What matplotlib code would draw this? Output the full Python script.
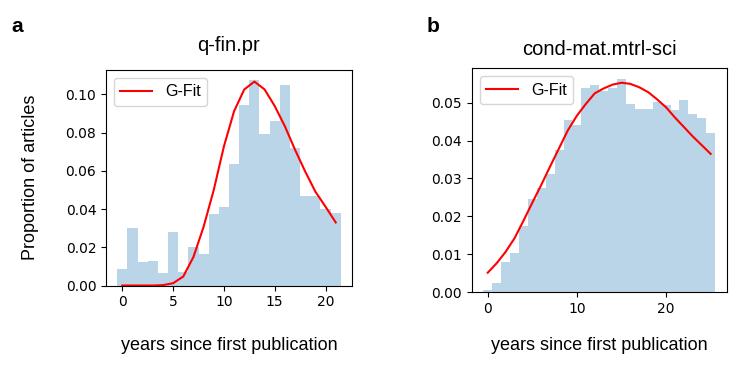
import matplotlib
matplotlib.use("Agg")
import matplotlib.pyplot as plt
import numpy as np

# Panel a: q-fin.pr
years_a = list(range(0, 22))
prop_a = [0.0084, 0.0300, 0.0121, 0.0126, 0.0065, 0.0279, 0.0070, 0.0204, 0.0167,
          0.0375, 0.0411, 0.0637, 0.0947, 0.1074, 0.0791, 0.0863, 0.1051, 0.0721,
          0.0467, 0.0470, 0.0402, 0.0377]
fit_a = [0.0, 0.0, 0.0, 0.0, 0.0002, 0.0012, 0.0047, 0.0149, 0.0307, 0.0500,
         0.0728, 0.0912, 0.1026, 0.1067, 0.1026, 0.0939, 0.0833, 0.0710, 0.0596,
         0.0491, 0.0412, 0.0330]

# Panel b: cond-mat.mtrl-sci
years_b = list(range(0, 26))
prop_b = [0.0004, 0.0023, 0.0078, 0.0103, 0.0175, 0.0245, 0.0274, 0.0311, 0.0374,
          0.0454, 0.0440, 0.0538, 0.0547, 0.0532, 0.0538, 0.0563, 0.0498, 0.0484,
          0.0484, 0.0502, 0.0493, 0.0480, 0.0508, 0.0471, 0.0459, 0.0419]
fit_b = [0.0051, 0.0076, 0.0106, 0.0142, 0.0188, 0.0236, 0.0283, 0.0332, 0.0380,
         0.0428, 0.0466, 0.0497, 0.0525, 0.0538, 0.0548, 0.0553, 0.0550, 0.0541,
         0.0528, 0.0509, 0.0488, 0.0461, 0.0436, 0.0411, 0.0388, 0.0365]

titles = ["q-fin.pr", "cond-mat.mtrl-sci"]
panel_labels = ["a", "b"]
xlabel = "years since first publication"
ylabel = "Proportion of articles"

W, H = 747, 368
fig = plt.figure(figsize=(W / 100, H / 100), dpi=100)

def rect(x0, y0, x1, y1):
    return [x0 / W, 1 - y1 / H, (x1 - x0) / W, (y1 - y0) / H]

lab_font = dict(family="Liberation Sans")
axA = fig.add_axes(rect(106, 70, 352, 285.5))
axB = fig.add_axes(rect(471.7, 68.3, 726.7, 292))

for ax, xs, ys, fx, title, tpad, xpad in [
        (axA, years_a, prop_a, fit_a, titles[0], 14, 20),
        (axB, years_b, prop_b, fit_b, titles[1], 9.5, 15)]:
    ax.bar(xs, ys, width=1.0, color="C0", alpha=0.3, linewidth=0)
    ax.plot(xs, fx, color="red", lw=1.5, label="G-Fit")
    ax.set_title(title, fontsize=14.5, pad=tpad, **lab_font)
    ax.set_xlabel(xlabel, fontsize=13, labelpad=xpad, **lab_font)
    ax.tick_params(labelsize=10)
    ax.legend(loc="upper left", prop=dict(family="Liberation Sans", size=11.5))

axA.set_xticks([0, 5, 10, 15, 20])
axB.set_xticks([0, 10, 20])
axA.set_ylabel(ylabel, fontsize=13, labelpad=19, **lab_font)

fig.text(17 / W, 1 - 27 / H, panel_labels[0], fontsize=15, fontweight="bold",
         ha="center", va="center", **lab_font)
fig.text(433 / W, 1 - 27 / H, panel_labels[1], fontsize=15, fontweight="bold",
         ha="center", va="center", **lab_font)

fig.savefig("out.png", dpi=100)
